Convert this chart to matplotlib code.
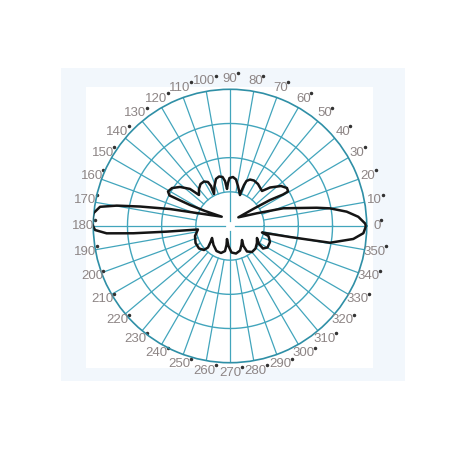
import numpy as np
import matplotlib
matplotlib.use('Agg')
import matplotlib.pyplot as plt
from matplotlib.patches import Rectangle
from matplotlib.transforms import offset_copy

# 방사 패턴 외곽선 (각도 deg, 반지름 0~1) - 0도 끝에서 반시계 방향으로 따라감
pattern_deg = [0.0, 1.1, 4.1, 7.0, 10.0, 11.9, 18.4, 25.4, 46.0,
               35.8, 33.0, 30.7, 30.7, 33.7, 38.1, 43.9, 47.6,
               56.3, 62.2, 66.7, 69.9, 71.1, 72.1, 72.1,
               78.7, 82.6, 86.5, 90.6, 92.7, 94.6,
               96.3, 98.7, 102.5, 106.6, 111.2, 116.6,
               115.4, 116.6, 120.3, 125.1, 130.0, 135.0,
               137.2, 142.0, 146.8, 150.9, 153.2, 153.0, 152.3, 149.0, 131.7,
               157.4, 164.2, 167.8, 169.8, 171.6, 174.7, 178.8, 181.7, 183.4, 184.3, 185.1, 186.2,
               195.9, 206.2, 216.0, 222.7, 224.3, 219.4, 213.7,
               229.0, 241.6, 251.6, 258.7, 259.6, 257.0,
               265.7, 273.2, 282.3, 292.2, 301.2, 310.6,
               304.0, 303.7, 310.2, 318.6, 327.8, 336.0,
               328.2, 325.7, 330.2, 338.2, 345.4, 348.5,
               349.6, 350.5, 354.0, 356.9, 360.0]
pattern_r = [0.995, 0.988, 0.941, 0.860, 0.743, 0.648, 0.411, 0.216, 0.088,
             0.225, 0.349, 0.451, 0.494, 0.501, 0.474, 0.406, 0.347,
             0.369, 0.376, 0.370, 0.351, 0.317, 0.261, 0.238,
             0.298, 0.343, 0.359, 0.351, 0.315, 0.272,
             0.331, 0.363, 0.371, 0.359, 0.314, 0.262,
             0.324, 0.360, 0.377, 0.375, 0.353, 0.321,
             0.399, 0.464, 0.507, 0.519, 0.496, 0.443, 0.330, 0.213, 0.091,
             0.238, 0.456, 0.674, 0.842, 0.961, 1.004, 1.012, 0.988, 0.904, 0.709, 0.465, 0.236,
             0.266, 0.281, 0.280, 0.259, 0.225, 0.184, 0.158,
             0.184, 0.208, 0.208, 0.187, 0.141, 0.098,
             0.147, 0.194, 0.206, 0.194, 0.162, 0.135,
             0.176, 0.224, 0.249, 0.249, 0.233, 0.216,
             0.250, 0.292, 0.316, 0.315, 0.291, 0.239,
             0.446, 0.742, 0.907, 0.977, 0.995]

# 각도 눈금
label_deg = list(range(0, 360, 10))
label_text = [str(a) for a in label_deg]

# 동심원 반지름
ring_r = [0.25, 0.5, 0.75]

W = 458
fig = plt.figure(figsize=(4.58, 4.58), dpi=100)
fig.patch.set_facecolor('white')

# 배경 (연한 파란 테두리 + 흰 안쪽)
fig.add_artist(Rectangle((61 / W, 1 - 381 / W), (405 - 61) / W, (381 - 68) / W,
                         transform=fig.transFigure, facecolor='#f2f7fc', edgecolor='none', zorder=-2))
fig.add_artist(Rectangle((86 / W, 1 - 368 / W), (373 - 86) / W, (368 - 87) / W,
                         transform=fig.transFigure, facecolor='white', edgecolor='none', zorder=-1))

ax = fig.add_axes([(230 - 136.7) / W, 1 - (226 + 136.7) / W, 273.4 / W, 273.4 / W], projection='polar')
ax.patch.set_alpha(0)
ax.set_xticks([])
ax.set_yticks([])
ax.grid(False)
ax.spines['polar'].set_color('#2f8fa6')
ax.spines['polar'].set_linewidth(1.2)

grid_c = '#42a5bc'
theta = np.linspace(0, 2 * np.pi, 361)
for r in ring_r:
    ax.plot(theta, np.full_like(theta, r), color=grid_c, lw=1.0, zorder=1)

for a in label_deg:
    r0 = 0.04 if a % 90 == 0 else 0.25
    ax.plot([np.radians(a)] * 2, [r0, 1], color=grid_c, lw=0.9, zorder=1)

# 각도 라벨 + 점
for a, t in zip(label_deg, label_text):
    th = np.radians(a)
    ax.text(th, 1.075, t, ha='center', va='center', fontsize=9.5,
            family=['Liberation Sans', 'DejaVu Sans'], color='#8d8585')
    tr = offset_copy(ax.transData, fig=fig, x=2.6 * len(t) + 0.5, y=4.0, units='points')
    ax.plot([th], [1.075], 'o', ms=1.5, color='#333333', transform=tr, clip_on=False)

# 패턴
ax.plot(np.radians(pattern_deg), pattern_r, color='#151515', lw=1.8, zorder=5,
        solid_joinstyle='round')

ax.set_ylim(0, 1)

fig.savefig('out.png', dpi=100)
